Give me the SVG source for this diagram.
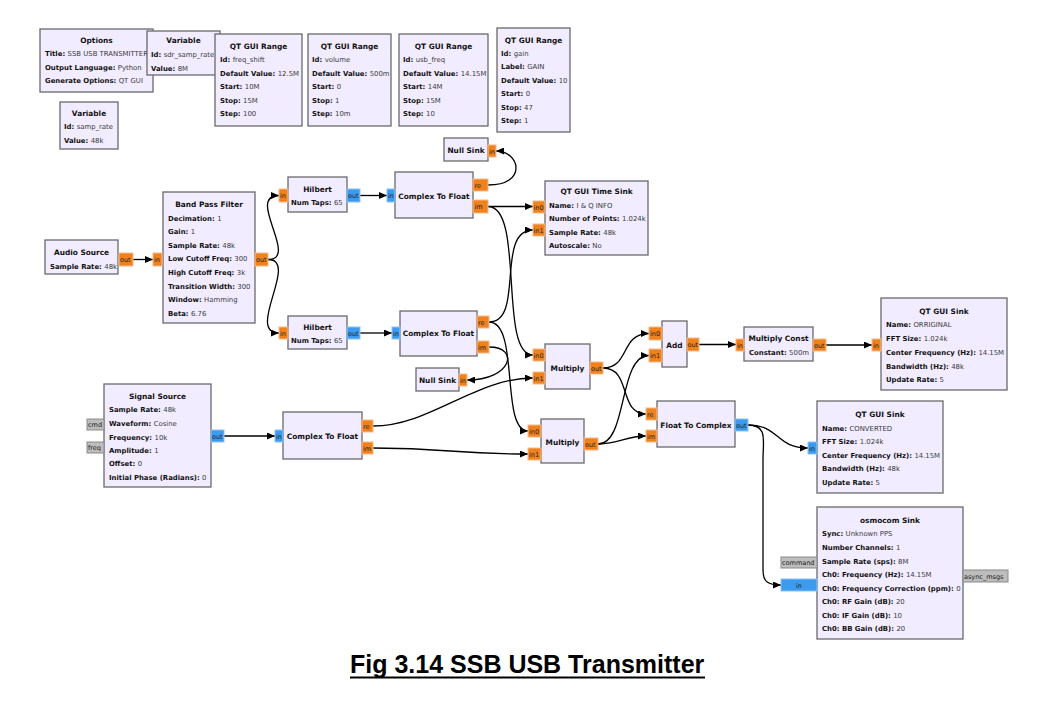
<svg xmlns="http://www.w3.org/2000/svg" width="1041" height="728" viewBox="0 0 1041 728">
<defs>
<style>
.b{fill:#F1ECFF;stroke:#6a6a6a;stroke-width:1.3}
.t{font-family:"DejaVu Sans",sans-serif;font-weight:bold;font-size:7.4px;text-anchor:middle;fill:#111}
.l{font-family:"DejaVu Sans",sans-serif;font-weight:bold;font-size:6.9px;fill:#111}
.v{font-weight:normal;fill:#3a3a3a}
.pf{fill:#F0821E;stroke:#F6B98A;stroke-width:1}
.pc{fill:#3C9BEE;stroke:#8CC4F5;stroke-width:1}
.pm{fill:#BDBDBD;stroke:#8a8a8a;stroke-width:1}
.pt{font-family:"DejaVu Sans",sans-serif;font-size:6.5px;fill:#222}
.c{fill:none;stroke:#000;stroke-width:1.3;marker-end:url(#ah)}
.cap{font-family:"Liberation Sans",Arial,sans-serif;font-weight:bold;font-size:25px;fill:#000}
</style>
<marker id="ah" markerWidth="8" markerHeight="7" refX="8" refY="3.5" orient="auto" markerUnits="userSpaceOnUse"><path d="M0,0 L8,3.5 L0,7 z" fill="#000"/></marker>
</defs>
<rect x="0" y="0" width="1041" height="728" fill="#fff"/>

<g id="connectors">
<path class="c" d="M133,259.5 L153,259.5"/>
<path class="c" d="M268,259.5 C300,259.5 245,195.5 279,195.5"/>
<path class="c" d="M268,259.5 C300,259.5 245,333 279,333"/>
<path class="c" d="M360,195.5 L387,195.5"/>
<path class="c" d="M488,185 C528,185 520,151 496,151"/>
<path class="c" d="M488,206.5 L533,206.5"/>
<path class="c" d="M488,206.5 C525,206.5 498,355 533,355"/>
<path class="c" d="M360,333 L392,333"/>
<path class="c" d="M489,322 C525,322 495,230 533,230"/>
<path class="c" d="M489,322 C520,322 500,431 528,431"/>
<path class="c" d="M489,347 C520,347 512,380 467,380"/>
<path class="c" d="M224,436 L275,436"/>
<path class="c" d="M373,426 C430,426 475,378 533,378"/>
<path class="c" d="M373,448 C450,448 450,454 528,454"/>
<path class="c" d="M603,368 C630,368 620,333.5 649,333.5"/>
<path class="c" d="M603,368 C632,368 618,414 646,414"/>
<path class="c" d="M598,444 C628,444 618,355.5 649,355.5"/>
<path class="c" d="M598,444 C620,444 625,436 646,436"/>
<path class="c" d="M699,344.5 L736,344.5"/>
<path class="c" d="M826,345 L872,345"/>
<path class="c" d="M748,425 C780,425 775,448 808,448"/>
<path class="c" d="M748,425 C768,425 763,440 763,460 L763,570 C763,582 768,585 781,585"/>
</g>

<g id="options">
<rect class="b" x="40" y="29" width="113" height="63"/>
<text class="t" x="96.5" y="43">Options</text>
<text class="l" x="45" y="56">Title: <tspan class="v">SSB USB TRANSMITTER</tspan></text>
<text class="l" x="45" y="69.5">Output Language: <tspan class="v">Python</tspan></text>
<text class="l" x="45" y="83">Generate Options: <tspan class="v">QT GUI</tspan></text>
</g>

<g id="var_sdr_samp_rate">
<rect class="b" x="147" y="31" width="73" height="44"/>
<text class="t" x="183.5" y="43">Variable</text>
<text class="l" x="151" y="56.5">Id: <tspan class="v">sdr_samp_rate</tspan></text>
<text class="l" x="151" y="70.5">Value: <tspan class="v">8M</tspan></text>
</g>

<g id="range_freq_shift">
<rect class="b" x="215" y="34" width="87" height="92"/>
<text class="t" x="258.5" y="49">QT GUI Range</text>
<text class="l" x="220" y="62">Id: <tspan class="v">freq_shift</tspan></text>
<text class="l" x="220" y="75.5">Default Value: <tspan class="v">12.5M</tspan></text>
<text class="l" x="220" y="89">Start: <tspan class="v">10M</tspan></text>
<text class="l" x="220" y="102.5">Stop: <tspan class="v">15M</tspan></text>
<text class="l" x="220" y="116">Step: <tspan class="v">100</tspan></text>
</g>

<g id="range_volume">
<rect class="b" x="308" y="34" width="83" height="92"/>
<text class="t" x="349.5" y="49">QT GUI Range</text>
<text class="l" x="312" y="62">Id: <tspan class="v">volume</tspan></text>
<text class="l" x="312" y="75.5">Default Value: <tspan class="v">500m</tspan></text>
<text class="l" x="312" y="89">Start: <tspan class="v">0</tspan></text>
<text class="l" x="312" y="102.5">Stop: <tspan class="v">1</tspan></text>
<text class="l" x="312" y="116">Step: <tspan class="v">10m</tspan></text>
</g>

<g id="range_usb_freq">
<rect class="b" x="399" y="34" width="89" height="92"/>
<text class="t" x="443.5" y="49">QT GUI Range</text>
<text class="l" x="403" y="62">Id: <tspan class="v">usb_freq</tspan></text>
<text class="l" x="403" y="75.5">Default Value: <tspan class="v">14.15M</tspan></text>
<text class="l" x="403" y="89">Start: <tspan class="v">14M</tspan></text>
<text class="l" x="403" y="102.5">Stop: <tspan class="v">15M</tspan></text>
<text class="l" x="403" y="116">Step: <tspan class="v">10</tspan></text>
</g>

<g id="range_gain">
<rect class="b" x="497" y="28" width="73" height="104"/>
<text class="t" x="533.5" y="43">QT GUI Range</text>
<text class="l" x="501" y="55.5">Id: <tspan class="v">gain</tspan></text>
<text class="l" x="501" y="69">Label: <tspan class="v">GAIN</tspan></text>
<text class="l" x="501" y="82.5">Default Value: <tspan class="v">10</tspan></text>
<text class="l" x="501" y="96">Start: <tspan class="v">0</tspan></text>
<text class="l" x="501" y="109.5">Stop: <tspan class="v">47</tspan></text>
<text class="l" x="501" y="123">Step: <tspan class="v">1</tspan></text>
</g>

<g id="var_samp_rate">
<rect class="b" x="60" y="102" width="58" height="47"/>
<text class="t" x="89" y="116">Variable</text>
<text class="l" x="64" y="129">Id: <tspan class="v">samp_rate</tspan></text>
<text class="l" x="64" y="142.5">Value: <tspan class="v">48k</tspan></text>
</g>

<g id="audio_source">
<rect class="b" x="45" y="240" width="73" height="34"/>
<text class="t" x="81.5" y="254.5">Audio Source</text>
<text class="l" x="50" y="268.5">Sample Rate: <tspan class="v">48k</tspan></text>
<rect class="pf" x="119" y="253" width="14" height="13"/>
<text class="pt" x="120" y="262">out</text>
</g>

<g id="band_pass_filter">
<rect class="b" x="163" y="192" width="92" height="131"/>
<text class="t" x="209" y="206.5">Band Pass Filter</text>
<text class="l" x="168" y="220.5">Decimation: <tspan class="v">1</tspan></text>
<text class="l" x="168" y="233.5">Gain: <tspan class="v">1</tspan></text>
<text class="l" x="168" y="247.5">Sample Rate: <tspan class="v">48k</tspan></text>
<text class="l" x="168" y="260.5">Low Cutoff Freq: <tspan class="v">300</tspan></text>
<text class="l" x="168" y="274.5">High Cutoff Freq: <tspan class="v">3k</tspan></text>
<text class="l" x="168" y="288.5">Transition Width: <tspan class="v">300</tspan></text>
<text class="l" x="168" y="301.5">Window: <tspan class="v">Hamming</tspan></text>
<text class="l" x="168" y="315.5">Beta: <tspan class="v">6.76</tspan></text>
<rect class="pf" x="153" y="253" width="9" height="13"/>
<text class="pt" x="154" y="262">in</text>
<rect class="pf" x="255" y="253" width="13" height="13"/>
<text class="pt" x="256" y="262">out</text>
</g>

<g id="hilbert_top">
<rect class="b" x="288" y="177" width="59" height="35"/>
<text class="t" x="317.5" y="191.5">Hilbert</text>
<text class="l" x="291" y="204.5">Num Taps: <tspan class="v">65</tspan></text>
<rect class="pf" x="279" y="189" width="9" height="13"/>
<text class="pt" x="280" y="198">in</text>
<rect class="pc" x="347" y="189" width="13" height="13"/>
<text class="pt" x="348" y="198">out</text>
</g>

<g id="c2f_top">
<rect class="b" x="395" y="172" width="78" height="46"/>
<text class="t" x="434" y="198.5">Complex To Float</text>
<rect class="pc" x="387" y="189" width="8" height="13"/>
<text class="pt" x="388" y="198">in</text>
<rect class="pf" x="473" y="179" width="15" height="12"/>
<text class="pt" x="474.5" y="187.5">re</text>
<rect class="pf" x="473" y="200" width="15" height="13"/>
<text class="pt" x="474.5" y="209">im</text>
</g>

<g id="null_sink_top">
<rect class="b" x="444" y="138" width="44" height="23"/>
<text class="t" x="466" y="152.5">Null Sink</text>
<rect class="pf" x="488" y="145" width="8" height="12"/>
<text class="pt" x="489" y="153.5">in</text>
</g>

<g id="time_sink">
<rect class="b" x="545" y="181" width="103" height="74"/>
<text class="t" x="596.5" y="193.5">QT GUI Time Sink</text>
<text class="l" x="549" y="207.5">Name: <tspan class="v">I &amp; Q INFO</tspan></text>
<text class="l" x="549" y="221">Number of Points: <tspan class="v">1.024k</tspan></text>
<text class="l" x="549" y="234.5">Sample Rate: <tspan class="v">48k</tspan></text>
<text class="l" x="549" y="248">Autoscale: <tspan class="v">No</tspan></text>
<rect class="pf" x="533" y="201" width="12" height="12"/>
<text class="pt" x="533.5" y="209.5">in0</text>
<rect class="pf" x="533" y="224" width="12" height="12"/>
<text class="pt" x="533.5" y="232.5">in1</text>
</g>

<g id="hilbert_bottom">
<rect class="b" x="288" y="316" width="59" height="33"/>
<text class="t" x="317.5" y="329.5">Hilbert</text>
<text class="l" x="291" y="342.5">Num Taps: <tspan class="v">65</tspan></text>
<rect class="pf" x="279" y="327" width="9" height="12"/>
<text class="pt" x="280" y="335.5">in</text>
<rect class="pc" x="347" y="327" width="13" height="12"/>
<text class="pt" x="348" y="335.5">out</text>
</g>

<g id="c2f_middle">
<rect class="b" x="400" y="311" width="77" height="45"/>
<text class="t" x="438.5" y="335.5">Complex To Float</text>
<rect class="pc" x="392" y="327" width="8" height="12"/>
<text class="pt" x="393" y="335.5">in</text>
<rect class="pf" x="477" y="316" width="12" height="12"/>
<text class="pt" x="478" y="324.5">re</text>
<rect class="pf" x="477" y="341" width="12" height="12"/>
<text class="pt" x="478" y="349.5">im</text>
</g>

<g id="null_sink_bottom">
<rect class="b" x="416" y="368" width="43" height="23"/>
<text class="t" x="437.5" y="382.5">Null Sink</text>
<rect class="pf" x="459" y="374" width="8" height="12"/>
<text class="pt" x="460" y="382.5">in</text>
</g>

<g id="multiply_top">
<rect class="b" x="545" y="344" width="45" height="45"/>
<text class="t" x="567.5" y="370.5">Multiply</text>
<rect class="pf" x="533" y="349" width="12" height="12"/>
<text class="pt" x="533.5" y="357.5">in0</text>
<rect class="pf" x="533" y="372" width="12" height="12"/>
<text class="pt" x="533.5" y="380.5">in1</text>
<rect class="pf" x="590" y="362" width="13" height="12"/>
<text class="pt" x="591" y="370.5">out</text>
</g>

<g id="add">
<rect class="b" x="662" y="321" width="25" height="46"/>
<text class="t" x="674.5" y="347.5">Add</text>
<rect class="pf" x="649" y="327" width="13" height="13"/>
<text class="pt" x="650" y="336">in0</text>
<rect class="pf" x="649" y="349" width="13" height="13"/>
<text class="pt" x="650" y="358">in1</text>
<rect class="pf" x="687" y="338" width="12" height="13"/>
<text class="pt" x="687.5" y="347">out</text>
</g>

<g id="multiply_const">
<rect class="b" x="744" y="327" width="69" height="34"/>
<text class="t" x="778.5" y="340.5">Multiply Const</text>
<text class="l" x="749" y="354.5">Constant: <tspan class="v">500m</tspan></text>
<rect class="pf" x="736" y="339" width="8" height="12"/>
<text class="pt" x="737" y="347.5">in</text>
<rect class="pf" x="813" y="339" width="13" height="12"/>
<text class="pt" x="814" y="347.5">out</text>
</g>

<g id="qt_gui_sink_original">
<rect class="b" x="881" y="298" width="126" height="92"/>
<text class="t" x="944" y="313.5">QT GUI Sink</text>
<text class="l" x="886" y="326.5">Name: <tspan class="v">ORRIGINAL</tspan></text>
<text class="l" x="886" y="340.5">FFT Size: <tspan class="v">1.024k</tspan></text>
<text class="l" x="886" y="354.5">Center Frequency (Hz): <tspan class="v">14.15M</tspan></text>
<text class="l" x="886" y="368.5">Bandwidth (Hz): <tspan class="v">48k</tspan></text>
<text class="l" x="886" y="381.5">Update Rate: <tspan class="v">5</tspan></text>
<rect class="pf" x="872" y="339" width="9" height="12"/>
<text class="pt" x="873" y="347.5">in</text>
</g>

<g id="signal_source">
<rect class="b" x="104" y="384" width="107" height="103"/>
<text class="t" x="157.5" y="398.5">Signal Source</text>
<text class="l" x="109" y="411.5">Sample Rate: <tspan class="v">48k</tspan></text>
<text class="l" x="109" y="425.5">Waveform: <tspan class="v">Cosine</tspan></text>
<text class="l" x="109" y="439.5">Frequency: <tspan class="v">10k</tspan></text>
<text class="l" x="109" y="452.5">Amplitude: <tspan class="v">1</tspan></text>
<text class="l" x="109" y="465.5">Offset: <tspan class="v">0</tspan></text>
<text class="l" x="109" y="479.5">Initial Phase (Radians): <tspan class="v">0</tspan></text>
<rect class="pm" x="87" y="419" width="17" height="11"/>
<text class="pt" x="88" y="427">cmd</text>
<rect class="pm" x="87" y="442" width="17" height="11"/>
<text class="pt" x="88" y="450">freq</text>
<rect class="pc" x="211" y="430" width="13" height="12"/>
<text class="pt" x="212" y="438.5">out</text>
</g>

<g id="c2f_signal">
<rect class="b" x="283" y="412" width="79" height="47"/>
<text class="t" x="322.5" y="438.5">Complex To Float</text>
<rect class="pc" x="275" y="430" width="8" height="12"/>
<text class="pt" x="276" y="438.5">in</text>
<rect class="pf" x="362" y="420" width="11" height="12"/>
<text class="pt" x="363" y="428.5">re</text>
<rect class="pf" x="362" y="442" width="11" height="12"/>
<text class="pt" x="363" y="450.5">im</text>
</g>

<g id="multiply_bottom">
<rect class="b" x="541" y="419" width="43" height="44"/>
<text class="t" x="562.5" y="444.5">Multiply</text>
<rect class="pf" x="528" y="425" width="13" height="12"/>
<text class="pt" x="529" y="433.5">in0</text>
<rect class="pf" x="528" y="448" width="13" height="12"/>
<text class="pt" x="529" y="456.5">in1</text>
<rect class="pf" x="584" y="438" width="14" height="12"/>
<text class="pt" x="585" y="446.5">out</text>
</g>

<g id="float_to_complex">
<rect class="b" x="657" y="401" width="78" height="46"/>
<text class="t" x="696" y="427.5">Float To Complex</text>
<rect class="pf" x="646" y="408" width="11" height="12"/>
<text class="pt" x="647" y="416.5">re</text>
<rect class="pf" x="646" y="430" width="11" height="12"/>
<text class="pt" x="647" y="438.5">im</text>
<rect class="pc" x="735" y="419" width="13" height="12"/>
<text class="pt" x="736" y="427.5">out</text>
</g>

<g id="qt_gui_sink_converted">
<rect class="b" x="817" y="401" width="126" height="92"/>
<text class="t" x="880" y="416.5">QT GUI Sink</text>
<text class="l" x="822" y="430.5">Name: <tspan class="v">CONVERTED</tspan></text>
<text class="l" x="822" y="444">FFT Size: <tspan class="v">1.024k</tspan></text>
<text class="l" x="822" y="457.5">Center Frequency (Hz): <tspan class="v">14.15M</tspan></text>
<text class="l" x="822" y="471">Bandwidth (Hz): <tspan class="v">48k</tspan></text>
<text class="l" x="822" y="484.5">Update Rate: <tspan class="v">5</tspan></text>
<rect class="pc" x="808" y="442" width="9" height="12"/>
<text class="pt" x="809" y="450.5">in</text>
</g>

<g id="osmocom_sink">
<rect class="b" x="817" y="507" width="146" height="132"/>
<text class="t" x="890" y="522.5">osmocom Sink</text>
<text class="l" x="822" y="535.5">Sync: <tspan class="v">Unknown PPS</tspan></text>
<text class="l" x="822" y="549.5">Number Channels: <tspan class="v">1</tspan></text>
<text class="l" x="822" y="563.5">Sample Rate (sps): <tspan class="v">8M</tspan></text>
<text class="l" x="822" y="576.5">Ch0: Frequency (Hz): <tspan class="v">14.15M</tspan></text>
<text class="l" x="822" y="590.5">Ch0: Frequency Correction (ppm): <tspan class="v">0</tspan></text>
<text class="l" x="822" y="603.5">Ch0: RF Gain (dB): <tspan class="v">20</tspan></text>
<text class="l" x="822" y="617.5">Ch0: IF Gain (dB): <tspan class="v">10</tspan></text>
<text class="l" x="822" y="630.5">Ch0: BB Gain (dB): <tspan class="v">20</tspan></text>
<rect class="pm" x="781" y="557" width="36" height="11"/>
<text class="pt" x="782" y="565">command</text>
<rect class="pc" x="781" y="579" width="36" height="12"/>
<text class="pt" x="799" y="587.5" text-anchor="middle">in</text>
<rect class="pm" x="963" y="570" width="45" height="12"/>
<text class="pt" x="964" y="578.5">async_msgs</text>
</g>

<g id="caption">
<text class="cap" x="350" y="673">Fig 3.14 SSB USB Transmitter</text>
<line x1="350" y1="677.5" x2="705" y2="677.5" stroke="#000" stroke-width="2"/>
</g>
</svg>
